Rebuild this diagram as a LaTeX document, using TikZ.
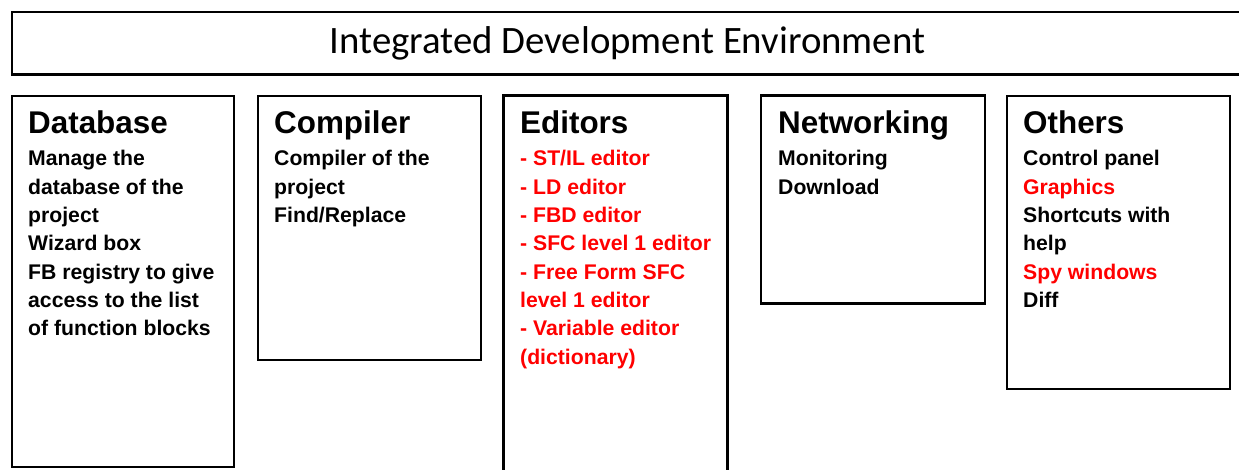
\documentclass[tikz,border=0pt]{standalone}
\usepackage{fontspec}
\setmainfont{Liberation Sans}
\newfontfamily\titlefont{Carlito}
\definecolor{hlred}{HTML}{FF0000}
\tikzset{
  panel/.style={draw=black, line width=2.4pt, anchor=north west, inner sep=0pt, outer sep=0pt},
  headtext/.style={anchor=base west, inner sep=0pt, font=\fontsize{31.4}{34}\selectfont\bfseries},
  bodytext/.style={anchor=north west, inner sep=0pt, align=left, font=\fontsize{21.2}{28.3}\selectfont\bfseries},
  hl/.style={text=hlred}
}
\newcommand{\topstrut}{\rule{0pt}{20pt}}
\begin{document}
\begin{tikzpicture}[x=1pt,y=1pt]
\useasboundingbox (0,0) rectangle (1239,-469);
% title box
\node[panel, minimum width=1250pt, minimum height=62.5pt] (ide) at (12,-12) {};
\node[inner sep=0pt, font=\titlefont\fontsize{38.8}{44}\selectfont] (idetitle) at (627.5,-43) {Integrated Development Environment};
% panels
\node[panel, minimum width=222pt, minimum height=371pt] (db) at (12,-96) {};
\node[panel, minimum width=223pt, minimum height=264pt] (comp) at (258,-96) {};
\node[panel, minimum width=224pt, minimum height=400pt] (ed) at (503.5,-95.5) {};
\node[panel, minimum width=224pt, minimum height=208pt] (net) at (761,-95.5) {};
\node[panel, minimum width=223pt, minimum height=293pt] (oth) at (1007,-96) {};
% headings
\node[headtext] (dbh) at (28,-133.3) {Database};
\node[headtext] (comph) at (274,-133.3) {Compiler};
\node[headtext] (edh) at (520,-133.3) {Editors};
\node[headtext] (neth) at (778,-133.3) {Networking};
\node[headtext] (othh) at (1023,-133.3) {Others};
% bodies
\node[bodytext] (dbb) at (28,-145.7) {\topstrut Manage the\\database of the\\project\\Wizard box\\FB registry to give\\access to the list\\of function blocks};
\node[bodytext] (compb) at (274,-145.7) {\topstrut Compiler of the\\project\\Find/Replace};
\node[bodytext, hl] (edb) at (520,-145.7) {\topstrut - ST/IL editor\\- LD editor\\- FBD editor\\- SFC level 1 editor\\- Free Form SFC\\level 1 editor\\- Variable editor\\(dictionary)};
\node[bodytext] (netb) at (778,-145.7) {\topstrut Monitoring\\Download};
\node[bodytext] (othb) at (1023,-145.7) {\topstrut Control panel\\\textcolor{hlred}{Graphics}\\Shortcuts with\\help\\\textcolor{hlred}{Spy windows}\\Diff};
\end{tikzpicture}
\end{document}
